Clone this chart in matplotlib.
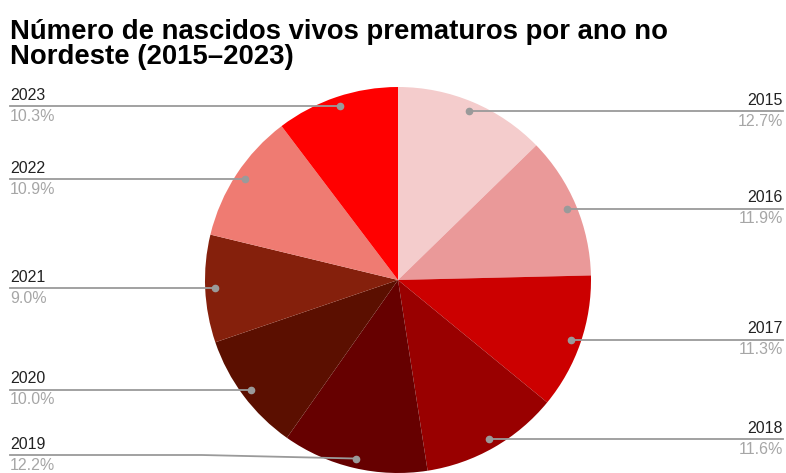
import numpy as np
import matplotlib
matplotlib.use('Agg')
from matplotlib import pyplot as plt

plt.rcParams['font.family'] = ['Liberation Sans', 'DejaVu Sans']

years = ['2015', '2016', '2017', '2018', '2019', '2020', '2021', '2022', '2023']
shares = [12.7, 11.9, 11.3, 11.6, 12.2, 10.0, 9.0, 10.9, 10.3]
colors = ['#f4cccc', '#ea9999', '#cc0000', '#990000', '#660000',
          '#5b0f00', '#85200c', '#ef7b72', '#ff0000']

W, H = 786, 473
cx, cy, rad = 398, 280, 193  # pie centre and radius in pixels

fig = plt.figure(figsize=(W / 100, H / 100), dpi=100)
ax = fig.add_axes([(cx - rad) / W, (H - cy - rad) / H, 2 * rad / W, 2 * rad / H])

ax.pie(shares, colors=colors, startangle=90, counterclock=False, radius=1,
       wedgeprops=dict(linewidth=0))
ax.set_xlim(-1, 1)
ax.set_ylim(-1, 1)
ax.set_aspect('equal')
ax.axis('off')

fig.text(10 / W, 1 - 64 / H, 'Número de nascidos vivos prematuros por ano no\nNordeste (2015–2023)',
         fontsize=19.8, fontweight='bold', ha='left', va='baseline', linespacing=0.93)

# leader lines and labels
left_x = (10 - cx) / rad
right_x = (783 - cx) / rad
lowest = (cy - 455) / rad  # keep bottom labels inside the figure
total = sum(shares)
cum = 0.0
for year, s in zip(years, shares):
    mid = 90 - (cum + s / 2) / total * 360
    cum += s
    px = 0.95 * np.cos(np.radians(mid))
    py = 0.95 * np.sin(np.radians(mid))
    ly = max(py, lowest)
    edge = right_x if px > 0 else left_x
    ha = 'right' if px > 0 else 'left'
    bend = px - 0.8 if px < 0 else px + 0.8
    ax.plot([px, bend, edge], [py, ly, ly], color='#9a9a9a', lw=1.3,
            clip_on=False, zorder=3)
    ax.plot(px, py, 'o', color='#9a9a9a', ms=4.5, clip_on=False, zorder=4)
    ax.annotate(year, (edge, ly), xytext=(0, 2.5), textcoords='offset points',
                ha=ha, va='bottom', fontsize=11.5, color='#222222', annotation_clip=False)
    ax.annotate(f'{s:.1f}%', (edge, ly), xytext=(0, -1.8), textcoords='offset points',
                ha=ha, va='top', fontsize=11.5, color='#a6a6a6', annotation_clip=False)

fig.savefig('out.png', dpi=100)
